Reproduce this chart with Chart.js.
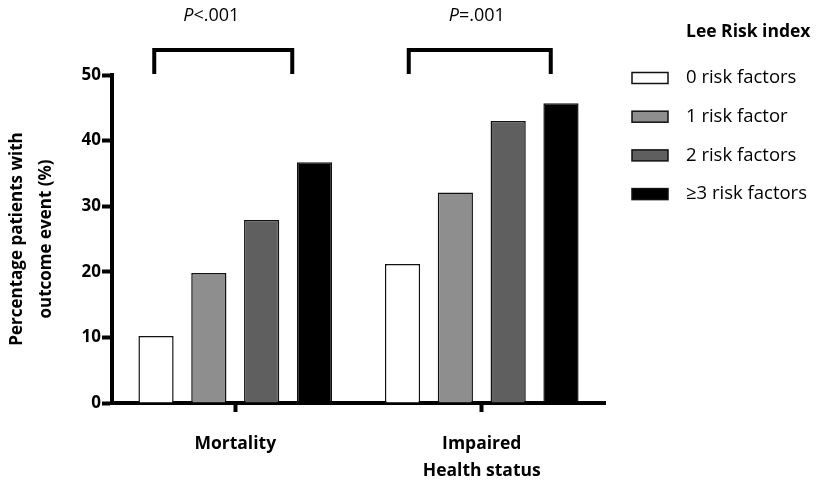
<!DOCTYPE html>
<html>
<head>
<meta charset="utf-8">
<script src="https://cdn.jsdelivr.net/npm/chart.js@4"></script>
<style>
  html, body { margin: 0; padding: 0; background: #fff; }
  #wrap { width: 819px; height: 482px; position: relative; }
</style>
</head>
<body>
<div id="wrap"><canvas id="c" width="819" height="482"></canvas></div>
<script>
// Outcome groups on the x axis
const outcomes = ['Mortality', ['Impaired', 'Health status']];

// Lee Risk index groups (legend labels)
const riskGroups = ['0 risk factors', '1 risk factor', '2 risk factors', '\u22653 risk factors'];

// Percentage of patients with the outcome event, per risk group: [Mortality, Impaired health status]
const zeroRisk  = [10.2, 21.2];
const oneRisk   = [19.8, 32.1];
const twoRisk   = [27.9, 43.0];
const threeRisk = [36.7, 45.7];

// P-values for trend across risk groups, per outcome
const pValues = [['P', '<.001'], ['P', '=.001']];

// Y-axis ticks
const yTicks = [0, 10, 20, 30, 40, 50];

const FONT = '"Open Sans", "DejaVu Sans", sans-serif';
const fills = ['#ffffff', '#8e8e8e', '#5f5f5f', '#000000'];
const seriesValues = [zeroRisk, oneRisk, twoRisk, threeRisk];

// Brackets over each outcome group, as pixel offsets from the group centre
const bracketSpans = [[-81, 57], [-73, 69]];
// Horizontal offset of each P-value label from the group centre
const pLabelOffsets = [-24, -5];

const annotations = {
  id: 'annotations',
  afterDraw(chart) {
    const ctx = chart.ctx;
    const x = chart.scales.x;
    ctx.save();
    // brackets and P-values
    ctx.strokeStyle = '#000';
    ctx.lineWidth = 4;
    ctx.lineCap = 'butt';
    ctx.lineJoin = 'miter';
    outcomes.forEach((_, i) => {
      const cx = x.getPixelForValue(i);
      const [a, b] = bracketSpans[i];
      ctx.beginPath();
      ctx.moveTo(cx + a, 74);
      ctx.lineTo(cx + a, 50);
      ctx.lineTo(cx + b, 50);
      ctx.lineTo(cx + b, 74);
      ctx.stroke();

      const [p, rest] = pValues[i];
      ctx.fillStyle = '#000';
      ctx.textBaseline = 'middle';
      ctx.font = 'italic 18px ' + FONT;
      const wp = ctx.measureText(p).width;
      ctx.font = '18px ' + FONT;
      const wr = ctx.measureText(rest).width;
      const tx = cx + pLabelOffsets[i] - (wp + wr) / 2;
      ctx.textAlign = 'left';
      ctx.font = 'italic 18px ' + FONT;
      ctx.fillText(p, tx, 16);
      ctx.font = '18px ' + FONT;
      ctx.fillText(rest, tx + wp, 16);
    });

    // legend
    ctx.textAlign = 'left';
    ctx.textBaseline = 'middle';
    ctx.font = 'bold 17.5px ' + FONT;
    ctx.fillStyle = '#000';
    ctx.fillText('Lee Risk index', 686, 32);
    ctx.font = '18.5px ' + FONT;
    chart.data.datasets.forEach((ds, i) => {
      const y = 78 + i * 38.7;
      ctx.fillStyle = ds.backgroundColor;
      ctx.fillRect(632, y - 5.5, 36, 11);
      ctx.strokeStyle = '#111';
      ctx.lineWidth = 1.5;
      ctx.strokeRect(632, y - 5.5, 36, 11);
      ctx.fillStyle = '#000';
      ctx.fillText(ds.label, 686, y);
    });
    ctx.restore();
  }
};

new Chart(document.getElementById('c'), {
  type: 'bar',
  data: {
    labels: outcomes,
    datasets: riskGroups.map((label, i) => ({
      label,
      data: seriesValues[i],
      backgroundColor: fills[i],
      borderColor: '#111',
      borderWidth: 1.5,
      categoryPercentage: 0.857,
      barPercentage: 0.667
    }))
  },
  options: {
    responsive: false,
    animation: false,
    devicePixelRatio: 1,
    layout: { padding: { top: 75, right: 214, left: 0, bottom: 0 } },
    plugins: {
      legend: { display: false },
      tooltip: { enabled: false }
    },
    scales: {
      x: {
        afterFit(scale) { scale.height = 79; },
        grid: {
          offset: false,
          drawOnChartArea: false,
          drawTicks: true,
          tickLength: 9,
          tickWidth: 4,
          tickColor: '#000'
        },
        border: { display: true, width: 4, color: '#000' },
        ticks: {
          color: '#000',
          padding: 18,
          font: { family: FONT, size: 17.5, weight: 'bold', lineHeight: 1.55 }
        }
      },
      y: {
        min: 0,
        max: 50,
        afterFit(scale) { scale.width = 112; },
        afterBuildTicks(scale) { scale.ticks = yTicks.map(v => ({ value: v })); },
        grid: {
          drawOnChartArea: false,
          drawTicks: true,
          tickLength: 10,
          tickWidth: 4,
          tickColor: '#000'
        },
        border: { display: true, width: 4, color: '#000' },
        ticks: {
          color: '#000',
          padding: 1,
          font: { family: FONT, size: 17, weight: 'bold' }
        },
        title: {
          display: true,
          text: ['Percentage patients with', 'outcome event (%)'],
          color: '#000',
          padding: { top: 3, bottom: 0 },
          font: { family: FONT, size: 17, weight: 'bold', lineHeight: 1.7 }
        }
      }
    }
  },
  plugins: [annotations]
});
</script>
</body>
</html>
